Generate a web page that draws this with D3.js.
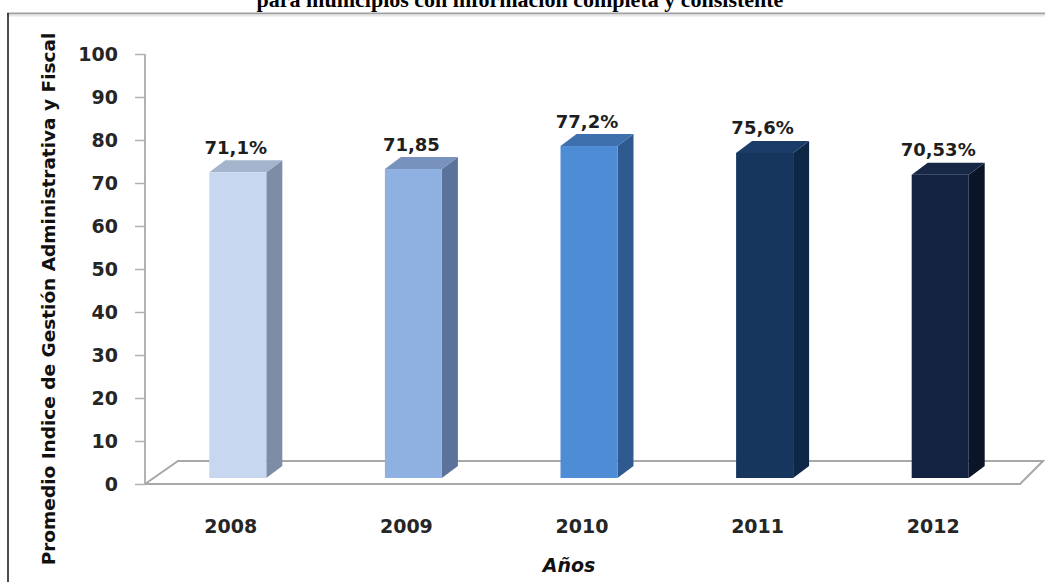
<!DOCTYPE html>
<html>
<head>
<meta charset="utf-8">
<script src="https://cdn.jsdelivr.net/npm/d3@7"></script>
<style>
  body { margin: 0; background: #fff; }
  svg { display: block; }
  .tick-lbl { font-family: "DejaVu Sans", sans-serif; font-weight: 700; font-size: 19px; fill: #262626; }
</style>
</head>
<body>
<div class="svg-container"></div>
<script>
// chart values
var years = ["2008", "2009", "2010", "2011", "2012"];
var values = [71.1, 71.85, 77.2, 75.6, 70.53];
var valueLabels = ["71,1%", "71,85", "77,2%", "75,6%", "70,53%"];
var yTicks = [0, 10, 20, 30, 40, 50, 60, 70, 80, 90, 100];
// front / side / top colour per bar
var frontColors = ["#c6d7ef", "#8fb1e1", "#4f8cd6", "#17365e", "#122240"];
var sideColors = ["#7e8da6", "#5b729b", "#2f5a90", "#0f2746", "#0b1528"];
var topColors = ["#a3b4cc", "#7892be", "#3e70ae", "#1b3c68", "#172846"];

var svgWidth = 1045, svgHeight = 582;
var svg = d3.select(".svg-container").append("svg")
  .attr("width", svgWidth)
  .attr("height", svgHeight);

// title (cut at top in the original) + frame
svg.append("text")
  .attr("x", 520).attr("y", 7)
  .attr("text-anchor", "middle")
  .style("font-family", "'Liberation Serif', serif")
  .style("font-weight", "700")
  .style("font-size", "22px")
  .text("para municipios con información completa y consistente");

svg.append("line").attr("x1", 7).attr("y1", 13.5).attr("x2", svgWidth).attr("y2", 13.5)
  .attr("stroke", "#a0a0a0").attr("stroke-width", 2);
svg.append("line").attr("x1", 7).attr("y1", 15.5).attr("x2", svgWidth).attr("y2", 15.5)
  .attr("stroke", "#e6e6e6").attr("stroke-width", 2);
svg.append("line").attr("x1", 8).attr("y1", 13).attr("x2", 8).attr("y2", svgHeight)
  .attr("stroke", "#111").attr("stroke-width", 1.5);

// scales
var yAxisScale = d3.scaleLinear().domain([0, 100]).range([484, 54]);
var yBar = d3.scaleLinear().domain([0, 100]).range([478, 48]);
var x = d3.scaleBand().domain(years).range([150, 1028]);
var barW = 57;
var depth = {dx: 16, dy: -12};

// y axis
var yAxis = d3.axisLeft(yAxisScale).tickValues(yTicks).tickSize(10).tickPadding(17);
var gy = svg.append("g").attr("transform", "translate(145,0)").call(yAxis);
gy.select(".domain").attr("stroke", "#9a9a9a").attr("stroke-width", 1.5).attr("d", "M0,54V484");
gy.selectAll(".tick line").attr("stroke", "#b0b0b0").attr("stroke-width", 1.5);
gy.selectAll(".tick text").attr("class", "tick-lbl").attr("dy", "0.35em");

// floor (slight perspective)
var floorPts = [[145, 484], [178, 461], [1043, 461], [1020, 484], [145, 484]];
svg.append("path")
  .attr("d", d3.line()(floorPts))
  .attr("fill", "#fff")
  .attr("stroke", "#a8a8a8").attr("stroke-width", 2);

// bars
var data = years.map(function(y, i) { return {year: y, value: values[i], label: valueLabels[i], i: i}; });
var bars = svg.append("g").selectAll("g").data(data).enter().append("g");

function bx(d) { return x(d.year) + x.bandwidth() / 2 - barW / 2; }
var base = yBar(0);

bars.append("path")
  .attr("fill", function(d) { return sideColors[d.i]; })
  .attr("d", function(d) {
    var l = bx(d) + barW, t = yBar(d.value);
    return d3.line()([[l, base], [l, t], [l + depth.dx, t + depth.dy], [l + depth.dx, base + depth.dy], [l, base]]);
  });
bars.append("path")
  .attr("fill", function(d) { return topColors[d.i]; })
  .attr("d", function(d) {
    var l = bx(d), t = yBar(d.value);
    return d3.line()([[l, t], [l + depth.dx, t + depth.dy], [l + barW + depth.dx, t + depth.dy], [l + barW, t], [l, t]]);
  });
bars.append("rect")
  .attr("x", bx)
  .attr("y", function(d) { return yBar(d.value); })
  .attr("width", barW)
  .attr("height", function(d) { return base - yBar(d.value); })
  .attr("fill", function(d) { return frontColors[d.i]; });

bars.append("text")
  .attr("x", function(d) { return bx(d) + barW / 2 - 2; })
  .attr("y", function(d) { return yBar(d.value) - 18.5; })
  .attr("text-anchor", "middle")
  .style("font-family", "'DejaVu Sans', sans-serif")
  .style("font-size", "18px")
  .style("font-weight", "700")
  .style("fill", "#1e1e1e")
  .text(function(d) { return d.label; });

// x labels
svg.append("g").selectAll("text").data(years).enter().append("text")
  .attr("class", "tick-lbl")
  .attr("x", function(d) { return x(d) + x.bandwidth() / 2 - 7; })
  .attr("y", 533)
  .attr("text-anchor", "middle")
  .text(function(d) { return d; });

// axis titles
svg.append("text")
  .attr("x", 569).attr("y", 572)
  .attr("text-anchor", "middle")
  .style("font-family", "'DejaVu Sans', sans-serif")
  .style("font-weight", "700").style("font-style", "italic")
  .style("font-size", "19px").style("fill", "#111")
  .text("Años");

svg.append("text")
  .attr("transform", "translate(55,299) rotate(-90)")
  .attr("text-anchor", "middle")
  .style("font-family", "'DejaVu Sans', sans-serif")
  .style("font-weight", "700")
  .style("font-size", "18.5px").style("fill", "#111")
  .text("Promedio Indice de Gestión Administrativa y Fiscal");
</script>
</body>
</html>
